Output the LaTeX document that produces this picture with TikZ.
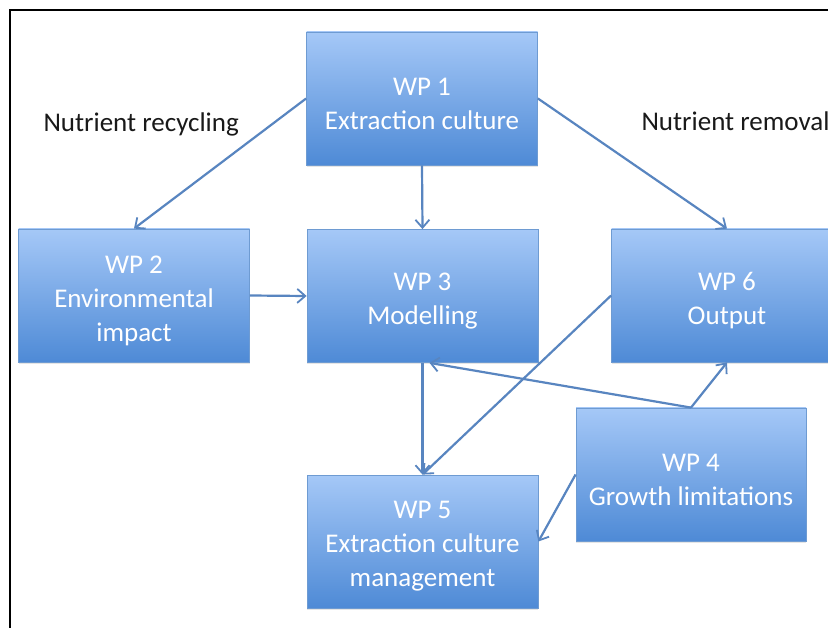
\documentclass[tikz,border=0pt]{standalone}
\usepackage{fontspec}
\setmainfont{Carlito}
\usetikzlibrary{arrows.meta,shadows}
\definecolor{wptop}{RGB}{165,200,247}
\definecolor{wpbottom}{RGB}{78,138,214}
\definecolor{wpedge}{RGB}{110,155,210}
\definecolor{wparrow}{RGB}{88,133,192}
\tikzset{
  wpbox/.style={rectangle, draw=wpedge, line width=0.8pt,
    top color=wptop, bottom color=wpbottom,
    drop shadow={opacity=0.2, shadow xshift=0pt, shadow yshift=-2pt},
    minimum width=231pt, minimum height=133pt, inner sep=0pt},
  wptext/.style={text=white, align=center, inner sep=0pt, yshift=-5pt,
    font=\fontsize{27}{34}\selectfont},
  wplink/.style={draw=wparrow, line width=2.2pt,
    -{Straight Barb[length=8pt,width=14pt,line width=1.8pt]}},
  sidelabel/.style={anchor=base west, text=black!90,
    font=\fontsize{27}{34}\selectfont}
}
\begin{document}
\begin{tikzpicture}[x=1pt,y=-1pt]
  \useasboundingbox (0,0) rectangle (828,628);
  \clip (0,0) rectangle (828,628);
  \fill[white] (0,0) rectangle (828,628);
  % frame
  \draw[line width=2pt] (10,628) -- (10,10) -- (828,10);
  % work packages
  \node[wpbox, label={[wptext]center:WP 1\\Extraction culture}] (wp1) at (422,98.5) {};
  \node[wpbox, label={[wptext]center:WP 2\\Environmental\\impact}] (wp2) at (134,295.5) {};
  \node[wpbox, label={[wptext]center:WP 3\\Modelling}] (wp3) at (422.5,296) {};
  \node[wpbox, label={[wptext]center:WP 6\\Output}] (wp6) at (727,295.5) {};
  \node[wpbox, minimum width=230pt, label={[wptext]center:WP 4\\Growth limitations}] (wp4) at (691,474.5) {};
  \node[wpbox, label={[wptext]center:WP 5\\Extraction culture\\management}] (wp5) at (422.5,541.5) {};
  % labels
  \node[sidelabel] (recycling) at (40,132) {Nutrient recycling};
  \node[sidelabel] (removal) at (638,131) {Nutrient removal};
  % links
  \begin{scope}[wplink]
    \draw (wp1.west) to (wp2.north);
    \draw (wp1.south) to (wp3.north);
    \draw (wp1.east) to (wp6.north);
    \draw (wp2.east) to (wp3.west);
    \draw (wp3.south) to (wp5.north);
    \draw (wp6.west) to (wp5.north);
    \draw (wp4.north) to ([xshift=7pt]wp3.south);
    \draw (wp4.north) to (wp6.south);
    \draw (wp4.west) to (wp5.east);
  \end{scope}
\end{tikzpicture}
\end{document}
